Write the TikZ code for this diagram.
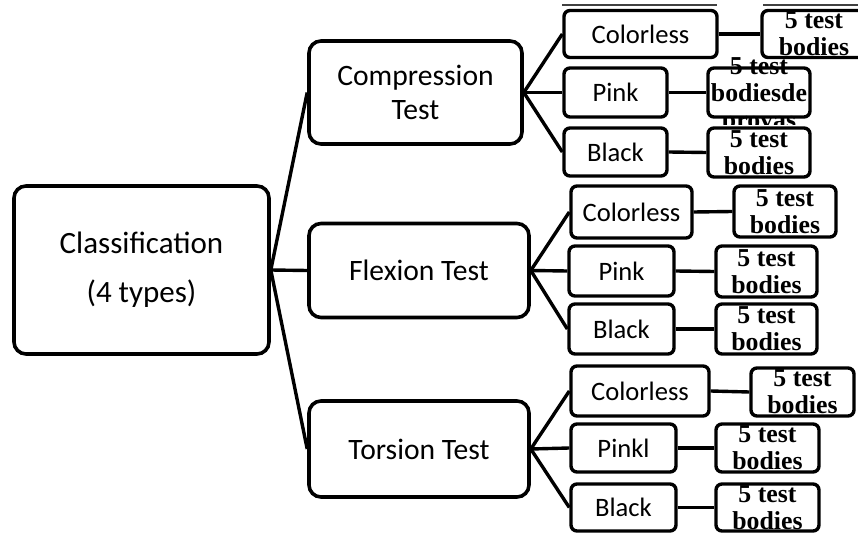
\documentclass[tikz,border=0pt]{standalone}
\usepackage{fontspec}
\setmainfont{Carlito}
\newfontfamily\serifface{Liberation Serif}
\begin{document}
\begin{tikzpicture}[x=1bp,y=-1bp,
  mainbox/.style={draw, line width=3.6bp, rounded corners=12bp, fill=white,
    align=center, inner sep=0pt, font=\fontsize{29.6bp}{34bp}\selectfont},
  colbox/.style={draw, line width=3.4bp, rounded corners=6bp, fill=white,
    align=center, inner sep=0pt, font=\fontsize{26.6bp}{30bp}\selectfont},
  testbox/.style={draw, line width=3.4bp, rounded corners=6bp, fill=white,
    align=center, inner sep=0pt,
    font=\serifface\bfseries\fontsize{25.8bp}{27bp}\selectfont},
  bare/.style={align=center, inner sep=0pt,
    font=\serifface\bfseries\fontsize{25.8bp}{27bp}\selectfont},
  link/.style={line width=3.4bp}]

\clip (0,0) rectangle (858,536);
\fill[white] (0,0) rectangle (858,536);

% edges of the boxes cut off above the top row
\draw[line width=2bp, black!75] (562,5) -- (717,5);
\draw[line width=2bp, black!75] (763,5) -- (858,5);

% root and the three tests
\node[mainbox, minimum width=255bp, minimum height=168bp,
  font=\fontsize{31bp}{49bp}\selectfont] (cls) at (141.5,270)
  {Classification\\(4 types)};
\node[mainbox, minimum width=213bp, minimum height=103bp] (comp) at (415.5,92.5)
  {Compression\\Test};
\node[mainbox, minimum width=220bp, minimum height=94bp] (flex) at (419,270.5)
  {Flexion Test};
\node[mainbox, minimum width=220bp, minimum height=96bp] (tors) at (419,449)
  {Torsion Test};

% compression branch
\node[colbox, minimum width=153bp, minimum height=47bp] (c1) at (640.5,34) {Colorless};
\node[testbox, minimum width=104bp, minimum height=47bp] (c1t) at (814,34) {5 test\\bodies};
\node[colbox, minimum width=103bp, minimum height=49bp] (p1) at (615.5,92.5) {Pink};
% overflowing three-line label, cut off by the neighbouring boxes
\begin{scope}
  \clip (700,58) rectangle (820,125);
  \node[bare] (p1tx) at (759,96) {5 test\\bodiesde\\provas};
\end{scope}
\node[testbox, fill=none, minimum width=102bp, minimum height=49bp] (p1t) at (759,92.5) {};
\node[colbox, minimum width=103bp, minimum height=48bp] (b1) at (615.5,152) {Black};
\node[testbox, minimum width=102bp, minimum height=49bp] (b1t) at (759,152.5) {5 test\\bodies};

% flexion branch
\node[colbox, minimum width=121bp, minimum height=52bp] (c2) at (631.5,212) {Colorless};
\node[testbox, minimum width=102bp, minimum height=51bp] (c2t) at (785,211.5) {5 test\\bodies};
\node[colbox, minimum width=105bp, minimum height=50bp] (p2) at (621.5,271) {Pink};
\node[testbox, minimum width=101bp, minimum height=51bp] (p2t) at (766.5,271.5) {5 test\\bodies};
\node[colbox, minimum width=105bp, minimum height=50bp] (b2) at (621.5,329) {Black};
\node[testbox, minimum width=101bp, minimum height=50bp] (b2t) at (766.5,329) {5 test\\bodies};

% torsion branch
\node[colbox, minimum width=138bp, minimum height=50bp] (c3) at (640,391) {Colorless};
\node[testbox, minimum width=103bp, minimum height=48bp] (c3t) at (802.5,392) {5 test\\bodies};
\node[colbox, minimum width=105bp, minimum height=48bp] (p3) at (623.5,448) {Pinkl};
\node[testbox, minimum width=103bp, minimum height=48bp] (p3t) at (767.5,448) {5 test\\bodies};
\node[colbox, minimum width=105bp, minimum height=47bp] (b3) at (623.5,507.5) {Black};
\node[testbox, minimum width=103bp, minimum height=47bp] (b3t) at (767.5,507.5) {5 test\\bodies};

% connectors
\foreach \t in {comp,flex,tors} \draw[link] (cls.east) -- (\t.west);
\foreach \p/\a/\b/\c in {comp/c1/p1/b1, flex/c2/p2/b2, tors/c3/p3/b3}{
  \draw[link] (\p.east) -- (\a.west);
  \draw[link] (\p.east) -- (\b.west);
  \draw[link] (\p.east) -- (\c.west);
}
\foreach \a/\b in {c1/c1t, p1/p1t, b1/b1t, c2/c2t, p2/p2t, b2/b2t, c3/c3t, p3/p3t, b3/b3t}
  \draw[link] (\a.east) -- (\b.west);
\end{tikzpicture}
\end{document}
